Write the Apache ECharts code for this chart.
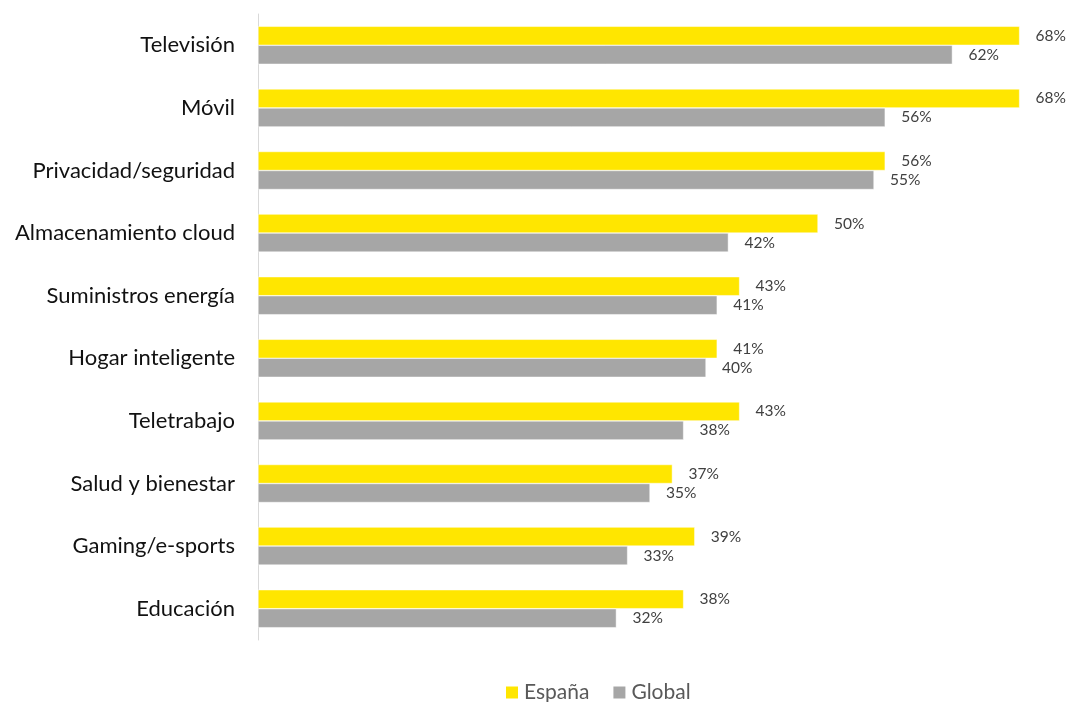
<!doctype html>
<html>
<head>
<meta charset="utf-8">
<script src="https://cdn.jsdelivr.net/npm/echarts@6/dist/echarts.min.js"></script>
<style>
    html, body {margin: 0; padding: 0; background: #fff;}
    #chart {width: 1070px; height: 702px;}
</style>
</head>
<body>
<div id="chart"></div>
<script>
    var categories = ['Televisión', 'Móvil', 'Privacidad/seguridad', 'Almacenamiento cloud', 'Suministros energía',
        'Hogar inteligente', 'Teletrabajo', 'Salud y bienestar', 'Gaming/e-sports', 'Educación'];
    var espana = [68, 68, 56, 50, 43, 41, 43, 37, 39, 38];
    var global = [62, 56, 55, 42, 41, 40, 38, 35, 33, 32];

    var font = 'Lato, "Open Sans", sans-serif';
    var myChart = echarts.init(document.getElementById('chart'));

    var label = {
        show: true,
        position: 'right',
        distance: 16,
        color: '#404040',
        fontSize: 15.5,
        fontFamily: font,
        formatter: '{c}%'
    };

    var option = {
        animation: false,
        legend: {
            top: 677,
            left: 499,
            itemWidth: 14,
            itemHeight: 14,
            itemGap: 22,
            icon: 'rect',
            textStyle: {color: '#595959', fontSize: 21, fontFamily: font},
            data: ['España', 'Global']
        },
        grid: {left: 258, right: 28, top: 14, bottom: 62},
        xAxis: {
            type: 'value',
            min: 0,
            max: 70,
            show: false
        },
        yAxis: {
            type: 'category',
            inverse: true,
            data: categories,
            axisLine: {show: true, lineStyle: {color: '#d9d9d9', width: 1}},
            axisTick: {show: false},
            axisLabel: {color: '#111', fontSize: 22, fontFamily: font, margin: 23}
        },
        series: [
            {
                name: 'España',
                type: 'bar',
                barWidth: 19,
                barGap: '0%',
                itemStyle: {color: '#FFE600', borderColor: '#fff', borderWidth: 0.5},
                label: label,
                data: espana
            },
            {
                name: 'Global',
                type: 'bar',
                barWidth: 19,
                itemStyle: {color: '#A6A6A6', borderColor: '#fff', borderWidth: 0.5},
                label: label,
                data: global
            }
        ]
    };
    myChart.setOption(option, true);
</script>
</body>
</html>
